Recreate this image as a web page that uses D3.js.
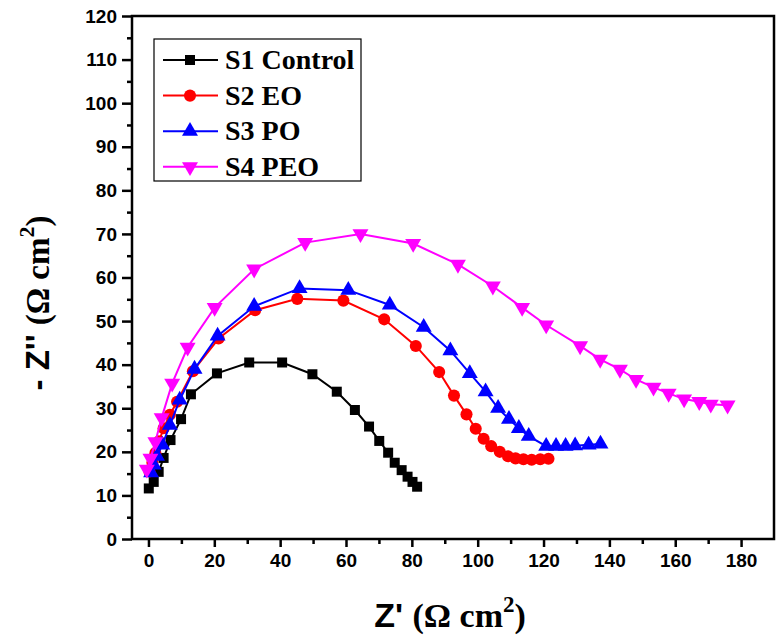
<!DOCTYPE html>
<html>
<head>
<meta charset="utf-8">
<script src="https://cdn.jsdelivr.net/npm/d3@7"></script>
<style>
  body { margin: 0; background: #fff; }
  svg text { fill: #000; }
</style>
</head>
<body>
<svg id="chart" width="780" height="637"></svg>
<script>
// Nyquist data (Z' , -Z'')
const s1X = [0.1, 1.6, 3.1, 4.6, 6.7, 9.9, 12.9, 20.8, 30.6, 40.6, 49.8, 57.2, 62.7, 67.0, 70.1, 72.8, 74.8, 76.9, 78.7, 80.2, 81.6];
const s1Y = [11.6, 13.1, 15.4, 18.6, 22.7, 27.5, 33.2, 38.0, 40.5, 40.5, 37.8, 33.8, 29.6, 25.8, 22.5, 19.8, 17.5, 15.8, 14.3, 13.1, 12.0];

const s2X = [0.3, 1.2, 2.1, 3.2, 4.6, 6.5, 8.7, 13.5, 21.3, 32.4, 45.2, 59.2, 71.6, 81.2, 88.3, 92.8, 96.6, 99.4, 101.8, 104.1, 106.7, 109.2, 111.5, 113.9, 116.4, 119.0, 121.5];
const s2Y = [15.5, 17.5, 19.7, 22.4, 25.4, 28.5, 31.5, 38.5, 46.0, 52.5, 55.1, 54.7, 50.4, 44.3, 38.3, 32.9, 28.6, 25.3, 23.0, 21.3, 20.0, 19.0, 18.5, 18.3, 18.2, 18.3, 18.4];

const s3X = [0.8, 1.6, 2.6, 4.2, 6.5, 9.5, 14.0, 21.0, 32.1, 45.9, 60.7, 73.3, 83.6, 91.7, 97.6, 102.4, 106.2, 109.5, 112.5, 115.5, 120.8, 123.8, 126.7, 129.6, 133.7, 137.3];
const s3Y = [15.2, 17.0, 19.0, 21.6, 26.1, 31.9, 39.0, 46.6, 53.4, 57.5, 57.1, 53.7, 48.6, 43.2, 38.0, 33.8, 30.0, 27.5, 25.4, 23.6, 21.3, 21.3, 21.3, 21.4, 21.6, 21.8];

const s4X = [-0.5, 0.6, 2.1, 4.0, 7.2, 11.9, 20.1, 32.1, 47.6, 64.4, 80.4, 94.0, 104.6, 113.5, 120.8, 131.1, 137.2, 143.2, 148.1, 153.4, 158.0, 162.7, 167.3, 170.8, 175.9];
const s4Y = [16.0, 18.5, 22.3, 27.8, 35.7, 44.0, 53.1, 61.9, 68.0, 70.0, 67.8, 63.0, 58.0, 53.1, 49.1, 44.3, 41.2, 38.9, 36.6, 34.8, 33.4, 32.1, 31.5, 30.9, 30.7];

const seriesNames = ["S1 Control", "S2 EO", "S3 PO", "S4 PEO"];
const seriesColors = ["#000000", "#ff0000", "#0000ff", "#ff00ff"];
const xTicks = [0, 20, 40, 60, 80, 100, 120, 140, 160, 180];
const yTicks = [0, 10, 20, 30, 40, 50, 60, 70, 80, 90, 100, 110, 120];

const series = [
  { x: s1X, y: s1Y, symbol: d3.symbolSquare, size: 100, rot: 0 },
  { x: s2X, y: s2Y, symbol: d3.symbolCircle, size: 115, rot: 0 },
  { x: s3X, y: s3Y, symbol: d3.symbolTriangle, size: 110, rot: 0 },
  { x: s4X, y: s4Y, symbol: d3.symbolTriangle, size: 110, rot: 180 },
];

const svg = d3.select("#chart");
const plotL = 132, plotR = 774, plotT = 16, plotB = 539;

const x = d3.scaleLinear().domain([-5, 190]).range([plotL, plotR]);
const y = d3.scaleLinear().domain([0, 120]).range([plotB, plotT]);

const axisFont = "'Liberation Sans', Arial, sans-serif";
const serif = "'Liberation Serif', 'Times New Roman', serif";

// minor ticks
const xMinor = d3.range(10, 190, 20);
const yMinor = d3.range(5, 120, 10);

const gx = svg.append("g").attr("transform", `translate(0,${plotB})`);
gx.append("g").call(d3.axisBottom(x).tickValues(xMinor).tickSize(5).tickFormat(""));
gx.append("g").call(d3.axisBottom(x).tickValues(xTicks).tickSize(8).tickPadding(7).tickFormat(d3.format("d")));
gx.selectAll(".domain").remove();
gx.selectAll("line").attr("stroke-width", 2.5);
gx.selectAll("text").attr("font-family", axisFont).attr("font-weight", "bold").attr("font-size", 19);

const gy = svg.append("g").attr("transform", `translate(${plotL},0)`);
gy.append("g").call(d3.axisLeft(y).tickValues(yMinor).tickSize(5).tickFormat(""));
gy.append("g").call(d3.axisLeft(y).tickValues(yTicks).tickSize(10).tickPadding(5).tickFormat(d3.format("d")));
gy.selectAll(".domain").remove();
gy.selectAll("line").attr("stroke-width", 2.5);
gy.selectAll("text").attr("font-family", axisFont).attr("font-weight", "bold").attr("font-size", 19);

// frame
svg.append("rect")
  .attr("x", plotL).attr("y", plotT)
  .attr("width", plotR - plotL).attr("height", plotB - plotT)
  .attr("fill", "none").attr("stroke", "#000").attr("stroke-width", 2.5);

const line = d3.line().x((d) => x(d[0])).y((d) => y(d[1]));

series.forEach((s, i) => {
  const pts = s.x.map((v, j) => [v, s.y[j]]);
  const g = svg.append("g");
  g.append("path")
    .attr("d", line(pts))
    .attr("fill", "none")
    .attr("stroke", seriesColors[i])
    .attr("stroke-width", 2);
  g.selectAll("path.m")
    .data(pts)
    .join("path")
    .attr("class", "m")
    .attr("d", d3.symbol().type(s.symbol).size(s.size))
    .attr("transform", (d) => `translate(${x(d[0])},${y(d[1])}) rotate(${s.rot})`)
    .attr("fill", seriesColors[i]);
});

// legend
const lg = svg.append("g");
lg.append("rect")
  .attr("x", 154).attr("y", 39).attr("width", 207).attr("height", 142)
  .attr("fill", "#fff").attr("stroke", "#000").attr("stroke-width", 1.2);
series.forEach((s, i) => {
  const cy = 60 + i * 35.6;
  lg.append("line")
    .attr("x1", 163).attr("x2", 218).attr("y1", cy).attr("y2", cy)
    .attr("stroke", seriesColors[i]).attr("stroke-width", 2);
  lg.append("path")
    .attr("d", d3.symbol().type(s.symbol).size(s.size))
    .attr("transform", `translate(190,${cy}) rotate(${s.rot})`)
    .attr("fill", seriesColors[i]);
  lg.append("text")
    .attr("x", 225).attr("y", cy + 9)
    .attr("font-family", serif).attr("font-weight", "bold").attr("font-size", 28)
    .text(seriesNames[i]);
});

// axis titles
const xt = svg.append("text")
  .attr("x", 450).attr("y", 627)
  .attr("text-anchor", "middle")
  .attr("font-weight", "bold").attr("font-size", 34);
xt.append("tspan").attr("font-family", axisFont).text("Z' ");
xt.append("tspan").attr("font-family", serif).text("(Ω cm");
xt.append("tspan").attr("font-family", serif).attr("font-size", 23).attr("dy", -15).text("2");
xt.append("tspan").attr("font-family", serif).attr("dy", 15).text(")");

const yt = svg.append("text")
  .attr("transform", "translate(49,303) rotate(-90)")
  .attr("text-anchor", "middle")
  .attr("font-weight", "bold").attr("font-size", 33);
yt.append("tspan").attr("font-family", axisFont).text("- Z'' ");
yt.append("tspan").attr("font-family", serif).text("(Ω cm");
yt.append("tspan").attr("font-family", serif).attr("font-size", 22).attr("dy", -15).text("2");
yt.append("tspan").attr("font-family", serif).attr("dy", 15).text(")");
</script>
</body>
</html>
